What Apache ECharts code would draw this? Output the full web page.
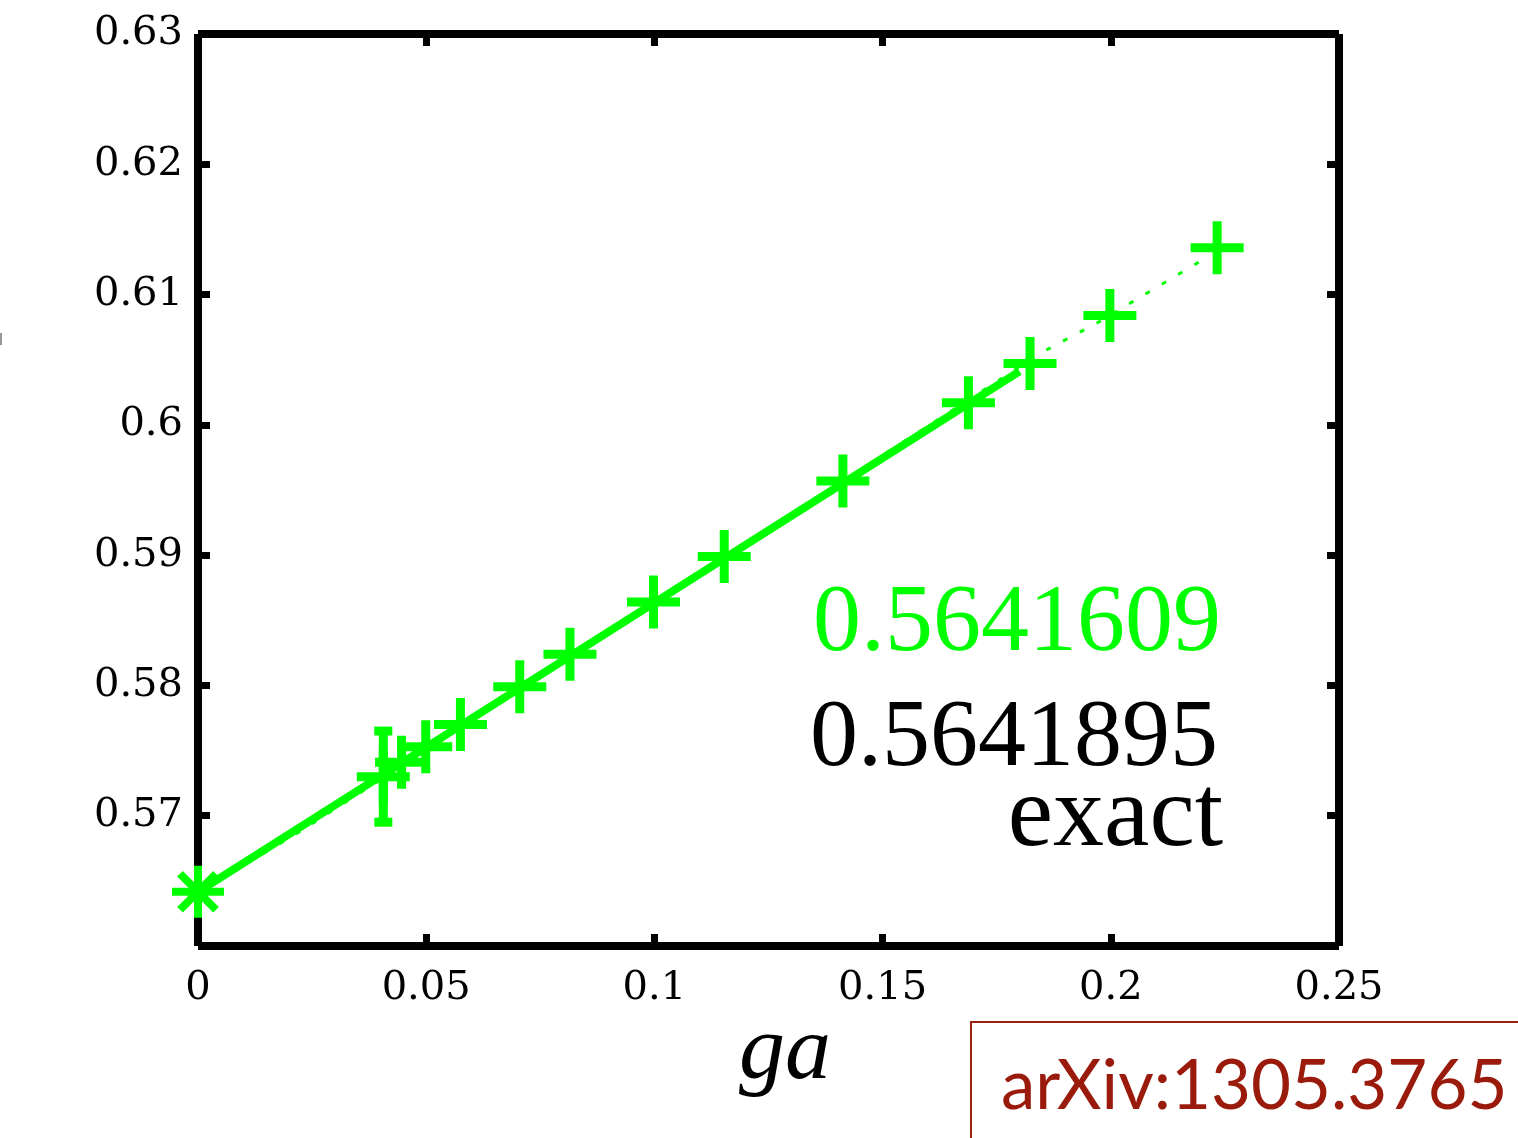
<!DOCTYPE html>
<html>
<head>
<meta charset="utf-8">
<script src="https://cdn.jsdelivr.net/npm/echarts@6/dist/echarts.min.js"></script>
<style>
  html, body { margin: 0; padding: 0; background: #fff; }
  #chart { width: 1518px; height: 1138px; }
</style>
</head>
<body>
<div id="chart"></div>
<script>
// Lattice data: coupling ga and the measured quantity
const gaValues = [0.0406, 0.0446, 0.0499, 0.0575, 0.0705, 0.0815, 0.0998, 0.1153, 0.1413, 0.1688, 0.1823, 0.1998, 0.2233];
const measured = [0.5730, 0.5741, 0.5753, 0.5770, 0.5799, 0.5824, 0.5864, 0.5899, 0.5957, 0.6017, 0.6047, 0.6084, 0.6136];
const errors   = [0.0035, 0, 0, 0, 0, 0, 0, 0, 0, 0, 0, 0, 0];

// Continuum extrapolation and exact value
const extrapolated = 0.5641609;
const exactValue = 0.5641895;

// Fit curves
const fitSolidX = [0, 0.18];
const fitSolidY = [0.5641609, 0.6041];
const fitDottedX = [0, 0.0224, 0.1851, 0.1969, 0.2198];
const fitDottedY = [0.5641, 0.5688, 0.6056, 0.6078, 0.6126];

// Axis ticks
const xTicks = ['0', '0.05', '0.1', '0.15', '0.2', '0.25'];
const yTicks = ['0.57', '0.58', '0.59', '0.6', '0.61', '0.62', '0.63'];

const GREEN = '#00ff00';
const PLUS = 'path://M22,0H31V22H53V31H31V53H22V31H0V22H22Z';

const chart = echarts.init(document.getElementById('chart'), null, { renderer: 'canvas' });

const frameLine = { show: true, onZero: false, lineStyle: { color: '#000', width: 8, cap: 'butt' } };
const innerTick = { show: true, inside: true, length: 12, lineStyle: { color: '#000', width: 7 } };
const tickFont = { fontFamily: 'DejaVu Serif', fontSize: 40, color: '#000' };

const option = {
  backgroundColor: '#fff',
  animation: false,
  grid: { left: 198, right: 179, top: 34, bottom: 192, containLabel: false },
  xAxis: [
    {
      type: 'value', position: 'bottom', min: 0, max: 0.25, interval: 0.05,
      axisLine: frameLine, axisTick: innerTick, splitLine: { show: false },
      axisLabel: Object.assign({ margin: 23, formatter: v => xTicks[Math.round(v / 0.05)] }, tickFont)
    },
    {
      type: 'value', position: 'top', min: 0, max: 0.25, interval: 0.05,
      axisLine: frameLine, axisTick: innerTick, splitLine: { show: false },
      axisLabel: { show: false }
    }
  ],
  yAxis: [
    {
      type: 'value', position: 'left', min: 0.56, max: 0.63, interval: 0.01,
      axisLine: frameLine, axisTick: innerTick, splitLine: { show: false },
      axisLabel: Object.assign({
        margin: 15,
        formatter: v => {
          const i = Math.round((v - 0.57) / 0.01);
          return i >= 0 ? yTicks[i] : '';
        }
      }, tickFont)
    },
    {
      type: 'value', position: 'right', min: 0.56, max: 0.63, interval: 0.01,
      axisLine: frameLine, axisTick: innerTick, splitLine: { show: false },
      axisLabel: { show: false }
    }
  ],
  series: [
    {
      name: 'fit (all)', type: 'line', xAxisIndex: 0, yAxisIndex: 0,
      data: fitDottedX.map((x, i) => [x, fitDottedY[i]]),
      showSymbol: false, symbol: 'none', silent: true, z: 2,
      lineStyle: { color: GREEN, width: 3, type: [5, 14] }
    },
    {
      name: 'fit', type: 'line', xAxisIndex: 0, yAxisIndex: 0,
      data: fitSolidX.map((x, i) => [x, fitSolidY[i]]),
      showSymbol: false, symbol: 'none', silent: true, z: 3,
      lineStyle: { color: GREEN, width: 8, cap: 'butt' }
    },
    {
      name: 'data', type: 'scatter', xAxisIndex: 0, yAxisIndex: 0,
      data: gaValues.map((x, i) => [x, measured[i]]),
      symbol: PLUS, symbolSize: 53, z: 4,
      itemStyle: { color: GREEN, opacity: 1 }
    },
    {
      name: 'error bars', type: 'custom', xAxisIndex: 0, yAxisIndex: 0, z: 4,
      data: gaValues.map((x, i) => [x, measured[i], errors[i]]),
      renderItem: (params, api) => {
        const err = api.value(2);
        if (!err) return null;
        const x = api.value(0), y = api.value(1);
        const top = api.coord([x, y + err]);
        const bot = api.coord([x, y - err]);
        const st = { stroke: GREEN, lineWidth: 9, fill: null };
        return {
          type: 'group',
          children: [
            { type: 'line', shape: { x1: top[0], y1: top[1], x2: bot[0], y2: bot[1] }, style: st },
            { type: 'line', shape: { x1: top[0] - 9, y1: top[1], x2: top[0] + 9, y2: top[1] }, style: st },
            { type: 'line', shape: { x1: bot[0] - 9, y1: bot[1], x2: bot[0] + 9, y2: bot[1] }, style: st }
          ]
        };
      }
    },
    {
      name: 'continuum', type: 'custom', xAxisIndex: 0, yAxisIndex: 0, z: 5,
      data: [[0, extrapolated]],
      renderItem: (params, api) => {
        const c = api.coord([api.value(0), api.value(1)]);
        const st = { stroke: GREEN, lineWidth: 8, fill: null };
        const h = 26, d = 18;
        return {
          type: 'group',
          children: [
            { type: 'line', shape: { x1: c[0] - h, y1: c[1], x2: c[0] + h, y2: c[1] }, style: st },
            { type: 'line', shape: { x1: c[0], y1: c[1] - h, x2: c[0], y2: c[1] + h }, style: st },
            { type: 'line', shape: { x1: c[0] - d, y1: c[1] - d, x2: c[0] + d, y2: c[1] + d }, style: st },
            { type: 'line', shape: { x1: c[0] - d, y1: c[1] + d, x2: c[0] + d, y2: c[1] - d }, style: st }
          ]
        };
      }
    }
  ],
  graphic: [
    {
      type: 'text', x: 1221, y: 625, z: 10,
      style: { text: extrapolated.toFixed(7), fill: GREEN, font: '96px "Liberation Serif"', align: 'right', verticalAlign: 'middle' }
    },
    {
      type: 'text', x: 1218, y: 740, z: 10,
      style: { text: exactValue.toFixed(7), fill: '#000', font: '96px "Liberation Serif"', align: 'right', verticalAlign: 'middle' }
    },
    {
      type: 'text', x: 1223, y: 818, z: 10,
      style: { text: 'exact', fill: '#000', font: '102px "Liberation Serif"', align: 'right', verticalAlign: 'middle' }
    },
    {
      type: 'text', x: 785, y: 1054, z: 10,
      style: { text: 'ga', fill: '#000', font: 'italic 92px "Liberation Serif"', align: 'center', verticalAlign: 'middle' }
    },
    {
      type: 'rect', z: 10,
      shape: { x: 971, y: 1022, width: 600, height: 200 },
      style: { fill: '#fff', stroke: '#9e2211', lineWidth: 2 }
    },
    {
      type: 'text', x: 1001, y: 1087, z: 11,
      style: { text: 'arXiv:1305.3765', fill: '#9a1b0b', font: '69px Lato', align: 'left', verticalAlign: 'middle' }
    },
    {
      type: 'rect', z: 10,
      shape: { x: 0, y: 333, width: 2, height: 12 },
      style: { fill: '#999' }
    }
  ]
};

chart.setOption(option);
</script>
</body>
</html>
